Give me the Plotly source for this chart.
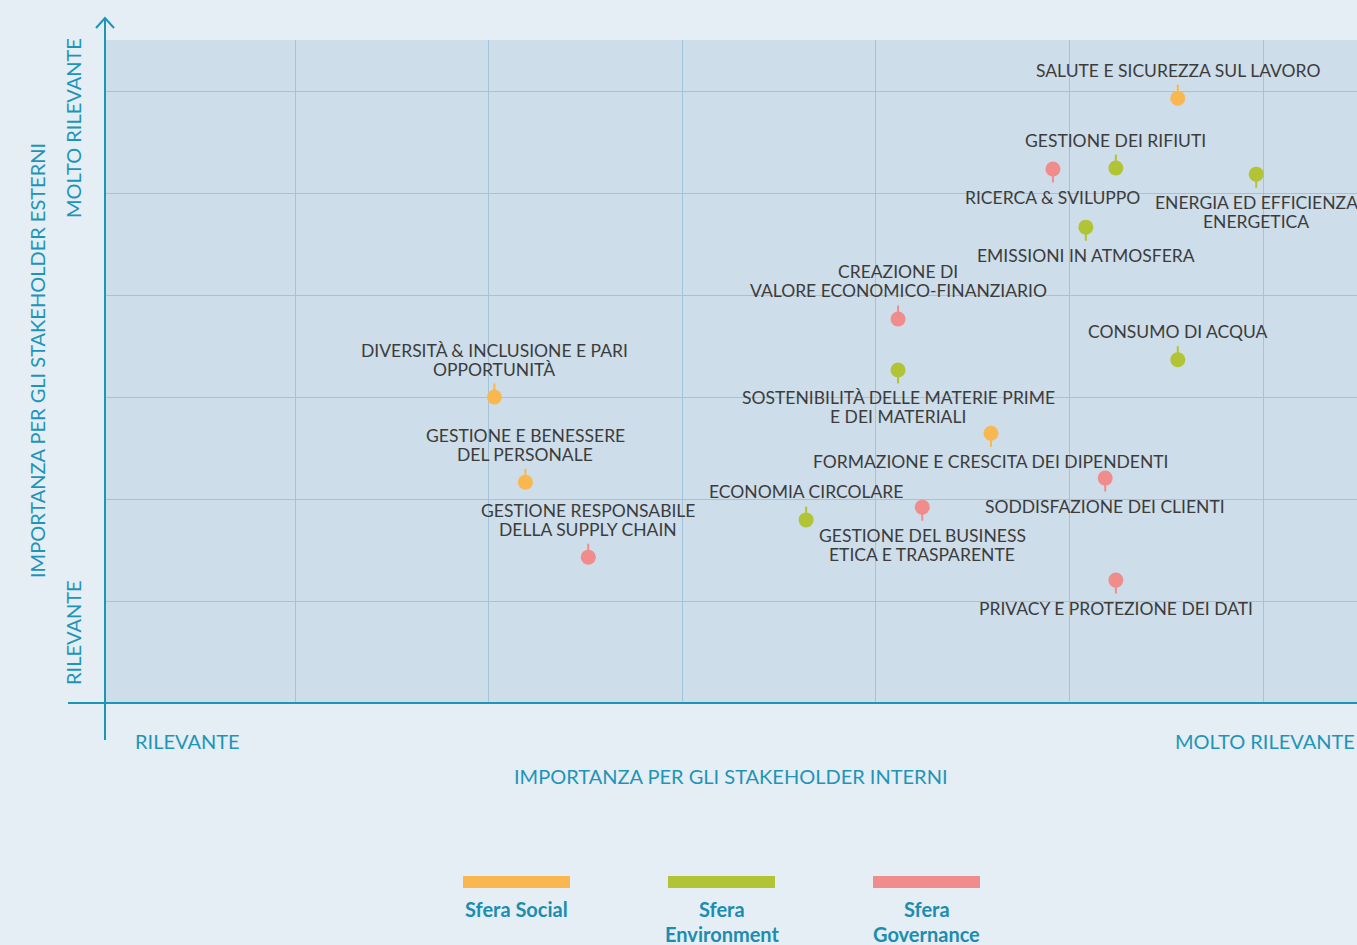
import plotly.graph_objects as go

# ---------------- data ----------------
topics = [
    "SALUTE E SICUREZZA SUL LAVORO",
    "GESTIONE DEI RIFIUTI",
    "RICERCA & SVILUPPO",
    "ENERGIA ED EFFICIENZA<br>ENERGETICA",
    "EMISSIONI IN ATMOSFERA",
    "CREAZIONE DI<br>VALORE ECONOMICO-FINANZIARIO",
    "CONSUMO DI ACQUA",
    "SOSTENIBILITÀ DELLE MATERIE PRIME<br>E DEI MATERIALI",
    "DIVERSITÀ & INCLUSIONE E PARI<br>OPPORTUNITÀ",
    "FORMAZIONE E CRESCITA DEI DIPENDENTI",
    "GESTIONE E BENESSERE<br>DEL PERSONALE",
    "SODDISFAZIONE DEI CLIENTI",
    "ECONOMIA CIRCOLARE",
    "GESTIONE DEL BUSINESS<br>ETICA E TRASPARENTE",
    "GESTIONE RESPONSABILE<br>DELLA SUPPLY CHAIN",
    "PRIVACY E PROTEZIONE DEI DATI",
]
sfera = ["Social", "Environment", "Governance", "Environment", "Environment",
         "Governance", "Environment", "Environment", "Social", "Social",
         "Social", "Governance", "Environment", "Governance", "Governance",
         "Governance"]
internal = [5.56, 5.24, 4.915, 5.965, 5.085, 4.115, 5.56, 4.115, 2.03, 4.595,
            2.19, 5.185, 3.64, 4.24, 2.515, 5.24]
external = [5.93, 5.245, 5.235, 5.185, 4.665, 3.765, 3.365, 3.265, 3.0, 2.645,
            2.165, 2.205, 1.795, 1.92, 1.43, 1.205]
label_side = ["up", "up", "down", "down", "down", "up", "up", "down", "up",
              "down", "up", "down", "up", "down", "up", "down"]

sfere = ["Social", "Environment", "Governance"]
legend_labels = ["Sfera Social", "Sfera<br>Environment", "Sfera<br>Governance"]
colors = {"Social": "#f9b84f", "Environment": "#b1c436", "Governance": "#f18c8c"}

x_title = "IMPORTANZA PER GLI STAKEHOLDER INTERNI"
y_title = "IMPORTANZA PER GLI STAKEHOLDER ESTERNI"
low_label = "RILEVANTE"
high_label = "MOLTO RILEVANTE"
grid_vals = [1, 2, 3, 4, 5, 6]

# ---------------- style ----------------
W, H = 1357, 945
L, R, T, B = 105, 0, 40, 242
PW, PH = W - L - R, H - T - B
TEAL = "#1d95b8"
TXT = "#3c3c3c"
FONT = "Lato"
AX_FS = 20

def px_x(p):  # pixel -> paper
    return (p - L) / PW

def px_y(p):
    return (H - B - p) / PH

fig = go.Figure()

for s in sfere:
    idx = [i for i, v in enumerate(sfera) if v == s]
    fig.add_trace(go.Scatter(
        x=[internal[i] for i in idx], y=[external[i] for i in idx],
        mode="markers", name="Sfera " + s, showlegend=False,
        marker=dict(size=15, color=colors[s], line=dict(width=0)),
        hoverinfo="text", hovertext=[topics[i] for i in idx],
    ))

annotations = []
for i, t in enumerate(topics):
    c = colors[sfera[i]]
    up = label_side[i] == "up"
    sign = 1 if up else -1
    # stem
    annotations.append(dict(
        x=internal[i], y=external[i], xref="x", yref="y", text="",
        showarrow=True, ax=0, ay=-15 * sign, arrowhead=0, arrowwidth=2,
        arrowcolor=c, standoff=0, startstandoff=0,
    ))
    lines = t.split("<br>")
    n = len(lines)
    for j, ln in enumerate(lines):
        off = 28 + 19 * (n - 1 - j) if up else -(28 + 19 * j)
        annotations.append(dict(
            x=internal[i], y=external[i], xref="x", yref="y", text=ln,
            showarrow=False, xanchor="center", yanchor="middle", yshift=off,
            font=dict(family=FONT, size=17.5, color=TXT), align="center",
        ))

# axis texts
annotations += [
    dict(x=px_x(731), y=px_y(776), xref="paper", yref="paper", text=x_title,
         showarrow=False, xanchor="center", yanchor="middle",
         font=dict(family=FONT, size=AX_FS, color=TEAL)),
    dict(x=px_x(133), y=px_y(741), xref="paper", yref="paper", text=low_label,
         showarrow=False, xanchor="left", yanchor="middle",
         font=dict(family=FONT, size=AX_FS, color=TEAL)),
    dict(x=px_x(1357), y=px_y(741), xref="paper", yref="paper", text=high_label,
         showarrow=False, xanchor="right", yanchor="middle",
         font=dict(family=FONT, size=AX_FS, color=TEAL)),
    dict(x=px_x(37), y=px_y(361), xref="paper", yref="paper", text=y_title,
         showarrow=False, xanchor="center", yanchor="middle", textangle=-90,
         font=dict(family=FONT, size=AX_FS, color=TEAL)),
    dict(x=px_x(73), y=px_y(128), xref="paper", yref="paper", text=high_label,
         showarrow=False, xanchor="center", yanchor="middle", textangle=-90,
         font=dict(family=FONT, size=AX_FS, color=TEAL)),
    dict(x=px_x(73), y=px_y(633), xref="paper", yref="paper", text=low_label,
         showarrow=False, xanchor="center", yanchor="middle", textangle=-90,
         font=dict(family=FONT, size=AX_FS, color=TEAL)),
]

shapes = [
    # vertical axis with arrow
    dict(type="line", xref="paper", yref="paper", x0=0, x1=0,
         y0=px_y(740), y1=px_y(18), line=dict(color=TEAL, width=2)),
    dict(type="path", xref="paper", yref="paper",
         path=f"M {px_x(96)},{px_y(28)} L {px_x(105)},{px_y(18)} L {px_x(114)},{px_y(28)}",
         line=dict(color=TEAL, width=2)),
    # horizontal axis
    dict(type="line", xref="paper", yref="paper", x0=px_x(68), x1=px_x(1357),
         y0=0, y1=0, line=dict(color=TEAL, width=2)),
]

# legend (custom)
for k, s in enumerate(sfere):
    cx = 516.5 + 205 * k
    shapes.append(dict(type="rect", xref="paper", yref="paper",
                       x0=px_x(cx - 53.5), x1=px_x(cx + 53.5),
                       y0=px_y(888), y1=px_y(876),
                       fillcolor=colors[s], line=dict(width=0)))
    for j, line in enumerate(legend_labels[k].split("<br>")):
        annotations.append(dict(x=px_x(cx), y=px_y(909 + 25 * j),
                                xref="paper", yref="paper",
                                text="<b>" + line + "</b>", showarrow=False,
                                xanchor="center", yanchor="middle",
                                font=dict(family=FONT, size=20, color="#1a8db0")))

fig.update_layout(
    width=W, height=H,
    margin=dict(l=L, r=R, t=T, b=B, pad=0),
    paper_bgcolor="#e5edf5", plot_bgcolor="#cddde9",
    showlegend=False,
    xaxis=dict(range=[(L - 101.4) / 193.6, (W - 101.4) / 193.6],
               tickvals=grid_vals, showticklabels=False, ticks="",
               showgrid=True, gridcolor="#a2c3da", gridwidth=1,
               zeroline=False, showline=False, fixedrange=True),
    yaxis=dict(range=[0, 6.5], tickvals=grid_vals, showticklabels=False,
               ticks="", showgrid=True, gridcolor="#a2c3da", gridwidth=1,
               zeroline=False, showline=False, fixedrange=True),
    annotations=annotations, shapes=shapes,
)

fig.write_html(
    "out.html",
    config={"displayModeBar": False},
    post_script="document.body.style.margin='0';document.body.style.padding='0';"
                "document.documentElement.style.overflow='hidden';",
)
